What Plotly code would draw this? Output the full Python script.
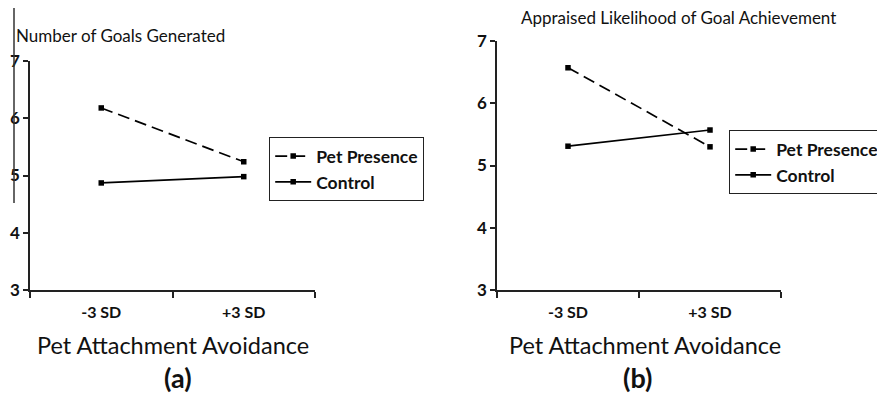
import plotly.graph_objects as go

categories = ["-3 SD", "+3 SD"]
series_names = ["Pet Presence", "Control"]
goals_pet = [6.18, 5.24]
goals_control = [4.87, 4.98]
likelihood_pet = [6.57, 5.30]
likelihood_control = [5.31, 5.57]
y_ticks = [3, 4, 5, 6, 7]

OFF = 8  # page body margin
W, H = 885 - OFF, 401 - OFF
FONT = "Lato"

def px(x):
    return (x - OFF) / W

def py(y):
    return 1 - (y - OFF) / H

fig = go.Figure()

line_common = dict(color="black", width=1.7)
marker_common = dict(symbol="square", size=5.5, color="black")
DASH = "12px,6px"

fig.add_trace(go.Scatter(x=categories, y=goals_pet, name=series_names[0], mode="lines+markers",
                         line=dict(dash=DASH, **line_common), marker=marker_common,
                         xaxis="x", yaxis="y", legend="legend"))
fig.add_trace(go.Scatter(x=categories, y=goals_control, name=series_names[1], mode="lines+markers",
                         line=dict(dash="solid", **line_common), marker=marker_common,
                         xaxis="x", yaxis="y", legend="legend"))
fig.add_trace(go.Scatter(x=categories, y=likelihood_pet, name=series_names[0], mode="lines+markers",
                         line=dict(dash=DASH, **line_common), marker=marker_common,
                         xaxis="x2", yaxis="y2", legend="legend2"))
fig.add_trace(go.Scatter(x=categories, y=likelihood_control, name=series_names[1], mode="lines+markers",
                         line=dict(dash="solid", **line_common), marker=marker_common,
                         xaxis="x2", yaxis="y2", legend="legend2"))

xaxis_common = dict(type="category", categoryorder="array", categoryarray=categories,
                    range=[-0.5, 1.5], tickson="boundaries", ticks="outside", ticklen=6,
                    tickwidth=1.5, tickcolor="#222", showline=True, linecolor="#222", linewidth=1.7,
                    showgrid=False, zeroline=False, fixedrange=True, ticklabelstandoff=7,
                    tickfont=dict(family=FONT, size=16, color="#111", weight="bold"))
yaxis_common = dict(range=[3, 7], tickvals=y_ticks, ticks="outside", ticklen=5, tickwidth=1.5,
                    tickcolor="#222", showline=True, linecolor="#222", linewidth=1.7,
                    showgrid=False, zeroline=False, fixedrange=True, ticklabelstandoff=0,
                    tickfont=dict(family=FONT, size=17, color="#111", weight="bold"))

fig.update_layout(
    width=W, height=H,
    margin=dict(l=0, r=0, t=0, b=0, autoexpand=False),
    paper_bgcolor="white", plot_bgcolor="white",
    showlegend=True,
    xaxis=dict(domain=[px(30), px(315)], anchor="y", **xaxis_common),
    yaxis=dict(domain=[py(290), py(61)], anchor="x", **yaxis_common),
    xaxis2=dict(domain=[px(497), px(781)], anchor="y2", **xaxis_common),
    yaxis2=dict(domain=[py(290), py(41)], anchor="x2", **yaxis_common),
    legend=dict(x=px(269), y=py(137), xanchor="left", yanchor="top",
                bordercolor="#222", borderwidth=1.2, bgcolor="white",
                font=dict(family=FONT, size=17.5, color="#111", weight="bold"),
                itemwidth=36, tracegroupgap=0),
    legend2=dict(x=px(729), y=py(130), xanchor="left", yanchor="top",
                 bordercolor="#222", borderwidth=1.2, bgcolor="white",
                 font=dict(family=FONT, size=17.5, color="#111", weight="bold"),
                 itemwidth=36, tracegroupgap=0),
    shapes=[dict(type="line", xref="paper", yref="paper", x0=px(14), x1=px(14),
                 y0=1.0, y1=py(203), line=dict(color="#333", width=1.5))],
    annotations=[
        dict(text="Number of Goals Generated", x=px(14), y=py(35), xref="paper", yref="paper",
             xanchor="left", yanchor="middle", showarrow=False,
             font=dict(family=FONT, size=17, color="#111")),
        dict(text="Appraised Likelihood of Goal Achievement", x=px(678), y=py(17), xref="paper",
             yref="paper", xanchor="center", yanchor="middle", showarrow=False,
             font=dict(family=FONT, size=17, color="#111")),
        dict(text="Pet Attachment Avoidance", x=px(173), y=py(345), xref="paper", yref="paper",
             xanchor="center", yanchor="middle", showarrow=False,
             font=dict(family=FONT, size=23.5, color="#111")),
        dict(text="Pet Attachment Avoidance", x=px(645), y=py(345), xref="paper", yref="paper",
             xanchor="center", yanchor="middle", showarrow=False,
             font=dict(family=FONT, size=23.5, color="#111")),
        dict(text="(a)", x=px(178), y=py(377), xref="paper", yref="paper",
             xanchor="center", yanchor="middle", showarrow=False,
             font=dict(family=FONT, size=27, color="#111", weight="bold")),
        dict(text="(b)", x=px(637), y=py(377), xref="paper", yref="paper",
             xanchor="center", yanchor="middle", showarrow=False,
             font=dict(family=FONT, size=27, color="#111", weight="bold")),
    ],
)

fig.write_html("out.html")
